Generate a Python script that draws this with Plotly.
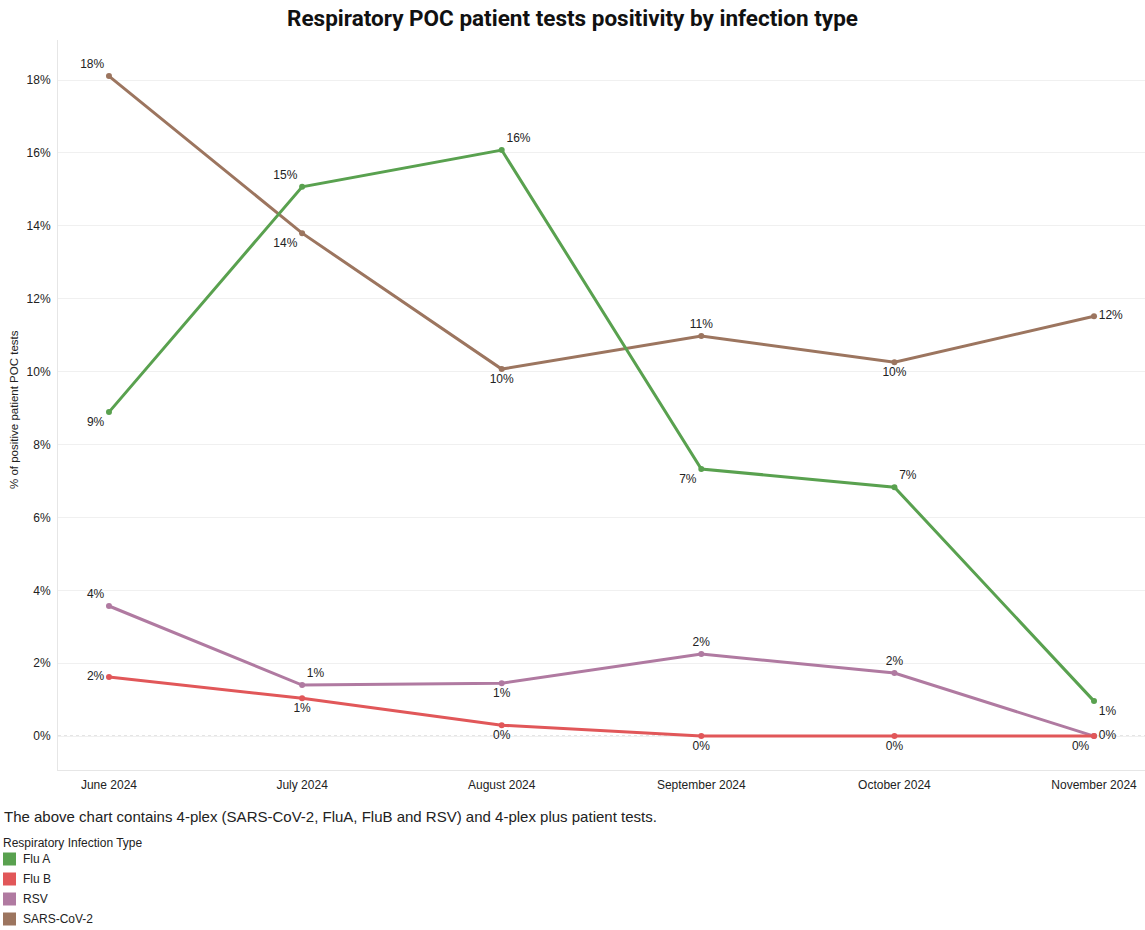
import plotly.graph_objects as go

months = ["2024-06-01", "2024-07-01", "2024-08-01", "2024-09-01", "2024-10-01", "2024-11-01"]
month_labels = ["June 2024", "July 2024", "August 2024", "September 2024", "October 2024", "November 2024"]
series_names = ["Flu A", "Flu B", "RSV", "SARS-CoV-2"]
flu_a = [8.89, 15.07, 16.08, 7.33, 6.83, 0.96]
flu_b = [1.62, 1.04, 0.30, 0.0, 0.0, 0.0]
rsv = [3.57, 1.40, 1.45, 2.25, 1.73, 0.0]
sars = [18.11, 13.80, 10.07, 10.98, 10.26, 11.52]
y_ticks = [0, 2, 4, 6, 8, 10, 12, 14, 16, 18]
y_tick_labels = ["0%", "2%", "4%", "6%", "8%", "10%", "12%", "14%", "16%", "18%"]

colors = {"Flu A": "#59A14F", "Flu B": "#E15759", "RSV": "#B07AA1", "SARS-CoV-2": "#9C755F"}
label_pos = {
    "Flu A": ["bottom left", "top left", "top right", "bottom left", "top right", "bottom right"],
    "Flu B": ["middle left", "bottom center", "bottom center", "bottom center", "bottom center", "bottom left"],
    "RSV": ["top left", "top right", "bottom center", "top center", "top center", "middle right"],
    "SARS-CoV-2": ["top left", "bottom left", "bottom center", "top center", "bottom center", "middle right"],
}
values = {"Flu A": flu_a, "Flu B": flu_b, "RSV": rsv, "SARS-CoV-2": sars}

W, H = 1145, 930
ML, MR, MT, MB = 58, 0, 40, 160
PW, PH = W - ML - MR, H - MT - MB

def px_x(px):
    return (px - ML) / PW

def px_y(py):
    return (H - MB - py) / PH

fig = go.Figure()
for name in ["SARS-CoV-2", "RSV", "Flu A", "Flu B"]:
    fig.add_trace(go.Scatter(
        x=months, y=values[name], name=name, mode="lines+markers+text",
        line=dict(color=colors[name], width=3),
        marker=dict(color=colors[name], size=6),
        texttemplate="%{y:.0f}%", textposition=label_pos[name],
        textfont=dict(family="Liberation Sans, Arial", size=12, color="#222"),
        showlegend=False, cliponaxis=False,
    ))

shapes = [
    dict(type="line", xref="paper", yref="y", x0=0, x1=1, y0=0, y1=0,
         line=dict(color="#bdbdbd", width=1, dash="dot"), layer="below"),
]
annotations = [
    dict(text="% of positive patient POC tests", xref="paper", yref="paper",
         x=px_x(14), y=px_y(410), textangle=-90, showarrow=False,
         font=dict(family="Liberation Sans, Arial", size=11.5, color="#222"),
         xanchor="center", yanchor="middle"),
    dict(text="The above chart contains 4-plex (SARS-CoV-2, FluA, FluB and RSV) and 4-plex plus patient tests.",
         xref="paper", yref="paper", x=px_x(2), y=px_y(817), showarrow=False,
         xanchor="left", yanchor="middle",
         font=dict(family="Liberation Sans, Arial", size=15, color="#222")),
    dict(text="Respiratory Infection Type", xref="paper", yref="paper",
         x=px_x(1), y=px_y(843), showarrow=False, xanchor="left", yanchor="middle",
         font=dict(family="Liberation Sans, Arial", size=12, color="#222")),
]
for i, name in enumerate(series_names):
    cy = 859 + 20 * i
    shapes.append(dict(type="rect", xref="paper", yref="paper",
                       x0=px_x(3), x1=px_x(16), y0=px_y(cy - 6.5), y1=px_y(cy + 6.5),
                       fillcolor=colors[name], line=dict(width=0)))
    annotations.append(dict(text=name, xref="paper", yref="paper",
                            x=px_x(21), y=px_y(cy), showarrow=False,
                            xanchor="left", yanchor="middle",
                            font=dict(family="Liberation Sans, Arial", size=12, color="#222")))

fig.update_layout(
    width=W, height=H,
    margin=dict(l=ML, r=MR, t=MT, b=MB),
    paper_bgcolor="white", plot_bgcolor="white",
    title=dict(text="<b>Respiratory POC patient tests positivity by infection type</b>",
               x=0.5, xref="container", xanchor="center", y=1 - 18 / H, yanchor="middle",
               font=dict(family="Roboto", size=22.5, color="#111")),
    xaxis=dict(type="date", range=["2024-05-24 02:00", "2024-11-08 22:00"], showgrid=False,
               tickmode="array", tickvals=months, ticktext=month_labels,
               showline=True, linecolor="#e6e6e6", linewidth=1,
               ticks="outside", ticklen=4, tickcolor="rgba(0,0,0,0)",
               tickfont=dict(family="Liberation Sans, Arial", size=12, color="#222")),
    yaxis=dict(range=[-0.93, 19.10], tickmode="array", tickvals=y_ticks, ticktext=y_tick_labels,
               showgrid=True, gridcolor="#f0f0f0", gridwidth=1, zeroline=False,
               showline=True, linecolor="#e6e6e6", linewidth=1,
               ticks="outside", ticklen=4, tickcolor="rgba(0,0,0,0)",
               tickfont=dict(family="Liberation Sans, Arial", size=12, color="#222")),
    shapes=shapes, annotations=annotations,
)

fig.write_html("out.html", config={"displayModeBar": False},
               post_script="document.body.style.margin='0';document.body.style.overflow='hidden';")
